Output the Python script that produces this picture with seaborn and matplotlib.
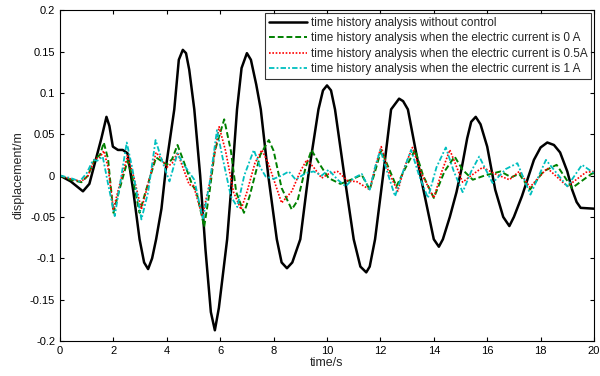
import numpy as np
import pandas as pd
import matplotlib
matplotlib.use("Agg")
import matplotlib.pyplot as plt
import seaborn as sns

# values (time in s, displacement in m)
t_none = [0, 0.4, 0.86, 1.1, 1.37, 1.55, 1.74, 1.85, 1.98, 2.17, 2.35, 2.53, 2.75, 2.98,
          3.15, 3.3, 3.45, 3.6, 3.8, 3.98, 4.28, 4.45, 4.6, 4.72, 4.84, 5.03, 5.25, 5.45,
          5.65, 5.8, 5.95, 6.1, 6.26, 6.45, 6.63, 6.8, 7.0, 7.15, 7.35, 7.52, 7.8, 8.12,
          8.3, 8.5, 8.7, 9.0, 9.3, 9.68, 9.85, 10.0, 10.15, 10.3, 10.65, 11.0, 11.25,
          11.47, 11.6, 11.8, 12.1, 12.4, 12.7, 12.85, 13.03, 13.5, 14.0, 14.19, 14.34,
          14.6, 14.85, 15.05, 15.25, 15.4, 15.57, 15.75, 16.0, 16.3, 16.6, 16.83, 17.0,
          17.3, 17.75, 18.0, 18.25, 18.5, 18.73, 19.0, 19.18, 19.35, 19.5, 20]
d_none = [0, -0.007, -0.019, -0.01, 0.023, 0.045, 0.071, 0.06, 0.035, 0.031, 0.031, 0.027,
          -0.02, -0.077, -0.105, -0.113, -0.1, -0.077, -0.04, 0.013, 0.08, 0.14, 0.152,
          0.148, 0.128, 0.08, 0.0, -0.09, -0.165, -0.187, -0.16, -0.12, -0.077, 0.0, 0.08,
          0.13, 0.148, 0.14, 0.11, 0.08, 0.0, -0.077, -0.105, -0.112, -0.105, -0.077, 0.0,
          0.08, 0.103, 0.109, 0.103, 0.08, 0.0, -0.077, -0.11, -0.117, -0.11, -0.077, 0.0,
          0.08, 0.093, 0.09, 0.08, 0.0, -0.077, -0.086, -0.077, -0.05, -0.02, 0.01, 0.045,
          0.065, 0.071, 0.062, 0.035, -0.017, -0.05, -0.061, -0.05, -0.025, 0.019, 0.034,
          0.04, 0.037, 0.028, 0.005, -0.017, -0.032, -0.039, -0.04]

t_0a = [0, 0.4, 0.8, 1.05, 1.3, 1.5, 1.64, 1.8, 2.0, 2.2, 2.53, 2.7, 2.98, 3.2, 3.6, 4.0,
        4.2, 4.4, 4.6, 4.96, 5.1, 5.4, 5.6, 5.8, 6.15, 6.4, 6.6, 6.89, 7.1, 7.5, 7.82, 8.0,
        8.3, 8.68, 8.9, 9.2, 9.42, 9.7, 10.06, 10.5, 10.9, 11.3, 11.6, 11.8, 12.03, 12.3,
        12.6, 12.95, 13.3, 13.6, 14.0, 14.4, 14.78, 15.08, 15.46, 15.9, 16.5, 16.9, 17.2,
        17.6, 18.1, 18.6, 19.18, 19.9, 20]
d_0a = [0, -0.005, -0.008, 0.0, 0.02, 0.025, 0.04, 0.02, -0.045, -0.02, 0.018, 0.0, -0.045,
        -0.02, 0.022, 0.013, 0.02, 0.037, 0.02, -0.012, -0.018, -0.062, -0.02, 0.03, 0.068,
        0.03, -0.02, -0.045, -0.025, 0.025, 0.043, 0.03, -0.015, -0.041, -0.03, 0.01, 0.031,
        0.015, -0.003, -0.01, -0.005, 0.001, -0.017, 0.005, 0.031, 0.01, -0.013, 0.01, 0.031,
        0.0, -0.027, 0.005, 0.023, 0.007, -0.005, 0.0, 0.005, -0.002, 0.002, -0.017, 0.005,
        0.013, -0.015, 0.002, 0.003]

t_05a = [0, 0.4, 0.8, 1.05, 1.3, 1.5, 1.64, 1.8, 2.0, 2.2, 2.53, 2.75, 3.05, 3.3, 3.6, 3.8,
         4.0, 4.2, 4.4, 4.6, 4.84, 5.0, 5.33, 5.6, 5.96, 6.2, 6.5, 6.78, 7.0, 7.3, 7.56, 7.8,
         8.3, 8.68, 9.0, 9.24, 9.5, 9.8, 10.06, 10.4, 10.8, 11.1, 11.6, 11.8, 12.03, 12.3,
         12.65, 12.9, 13.2, 13.5, 14.0, 14.3, 14.6, 14.8, 15.08, 15.4, 15.83, 16.3, 16.83,
         17.2, 17.6, 18.25, 19.0, 19.7, 20]
d_05a = [0, -0.004, -0.007, 0.0, 0.02, 0.022, 0.03, 0.01, -0.041, -0.015, 0.024, 0.0, -0.041,
         -0.01, 0.028, 0.02, 0.01, 0.015, 0.028, 0.01, -0.011, -0.012, -0.049, -0.01, 0.059,
         0.03, -0.02, -0.041, -0.02, 0.015, 0.031, 0.015, -0.033, -0.019, 0.005, 0.019, 0.01,
         -0.003, 0.002, 0.005, -0.007, -0.007, -0.017, 0.01, 0.035, 0.005, -0.019, 0.01, 0.034,
         0.005, -0.027, 0.005, 0.031, 0.015, -0.008, 0.0, 0.01, 0.002, -0.005, 0.005, -0.014,
         0.009, -0.013, 0.004, 0.005]

t_1a = [0, 0.4, 0.74, 1.0, 1.24, 1.4, 1.6, 1.8, 2.05, 2.25, 2.5, 2.7, 3.05, 3.3, 3.58, 3.8,
        4.1, 4.4, 4.6, 5.03, 5.35, 5.6, 5.88, 6.1, 6.4, 6.64, 6.9, 7.26, 7.5, 7.7, 8.0, 8.3,
        8.57, 8.83, 9.2, 9.5, 9.8, 10.06, 10.4, 10.7, 11.0, 11.3, 11.6, 11.8, 12.0, 12.3,
        12.55, 12.85, 13.15, 13.45, 13.78, 14.1, 14.45, 14.75, 15.08, 15.4, 15.7, 16.2, 16.7,
        17.13, 17.62, 18.2, 19.0, 19.55, 20]
d_1a = [0, -0.003, -0.007, 0.003, 0.019, 0.018, 0.023, -0.01, -0.049, -0.01, 0.04, 0.01,
        -0.053, -0.02, 0.043, 0.02, -0.007, 0.027, 0.015, -0.005, -0.053, -0.01, 0.055, 0.02,
        -0.025, -0.038, 0.0, 0.031, 0.01, -0.001, -0.004, 0.0, 0.005, -0.005, 0.003, 0.005,
        0.0, 0.007, -0.005, -0.013, -0.003, 0.002, -0.017, 0.01, 0.031, 0.0, -0.025, 0.005,
        0.031, 0.0, -0.027, 0.01, 0.034, 0.005, -0.02, 0.005, 0.023, -0.009, 0.008, 0.015,
        -0.023, 0.019, -0.013, 0.013, 0.003]

labels = [
    "time history analysis without control",
    "time history analysis when the electric current is 0 A",
    "time history analysis when the electric current is 0.5A",
    "time history analysis when the electric current is 1 A",
]

sns.set_style("white")
plt.rcParams["font.family"] = ["Liberation Sans", "DejaVu Sans"]

fig = plt.figure(figsize=(6, 3.76), dpi=100)
ax = fig.add_axes([0.1, 0.093, 0.89, 0.88])

sns.lineplot(x=t_none, y=d_none, ax=ax, color="black", linewidth=1.8,
             sort=False, label=labels[0])
sns.lineplot(x=t_0a, y=d_0a, ax=ax, color="#008000", linewidth=1.4,
             linestyle=(0, (3, 1.5)), sort=False, label=labels[1])
sns.lineplot(x=t_05a, y=d_05a, ax=ax, color="red", linewidth=1.2,
             linestyle=(0, (1, 1)), sort=False, label=labels[2])
sns.lineplot(x=t_1a, y=d_1a, ax=ax, color="#00BFBF", linewidth=1.3,
             linestyle=(0, (3, 1.2, 1, 1.2)), sort=False, label=labels[3])

ax.set_xlim(0, 20)
ax.set_ylim(-0.2, 0.2)
ax.set_xticks(np.arange(0, 21, 2))
ax.set_yticks([-0.2, -0.15, -0.1, -0.05, 0, 0.05, 0.1, 0.15, 0.2])
ax.set_yticklabels(["-0.2", "-0.15", "-0.1", "-0.05", "0", "0.05", "0.1", "0.15", "0.2"])
ax.tick_params(direction="in", length=3, labelsize=8, top=True, right=True,
               bottom=True, left=True, colors="black")
for s in ax.spines.values():
    s.set_color("black")
    s.set_linewidth(0.8)

ax.set_xlabel("time/s", fontsize=9, labelpad=1)
ax.set_ylabel("displacement/m", fontsize=9, labelpad=4)

leg = ax.legend(loc="upper right", fontsize=8.5, frameon=True, fancybox=False,
                edgecolor="black", borderpad=0.3, labelspacing=0.3,
                handlelength=3.2, handletextpad=0.35, borderaxespad=0.25)
leg.get_frame().set_linewidth(0.8)

fig.savefig("out.png", dpi=100)
